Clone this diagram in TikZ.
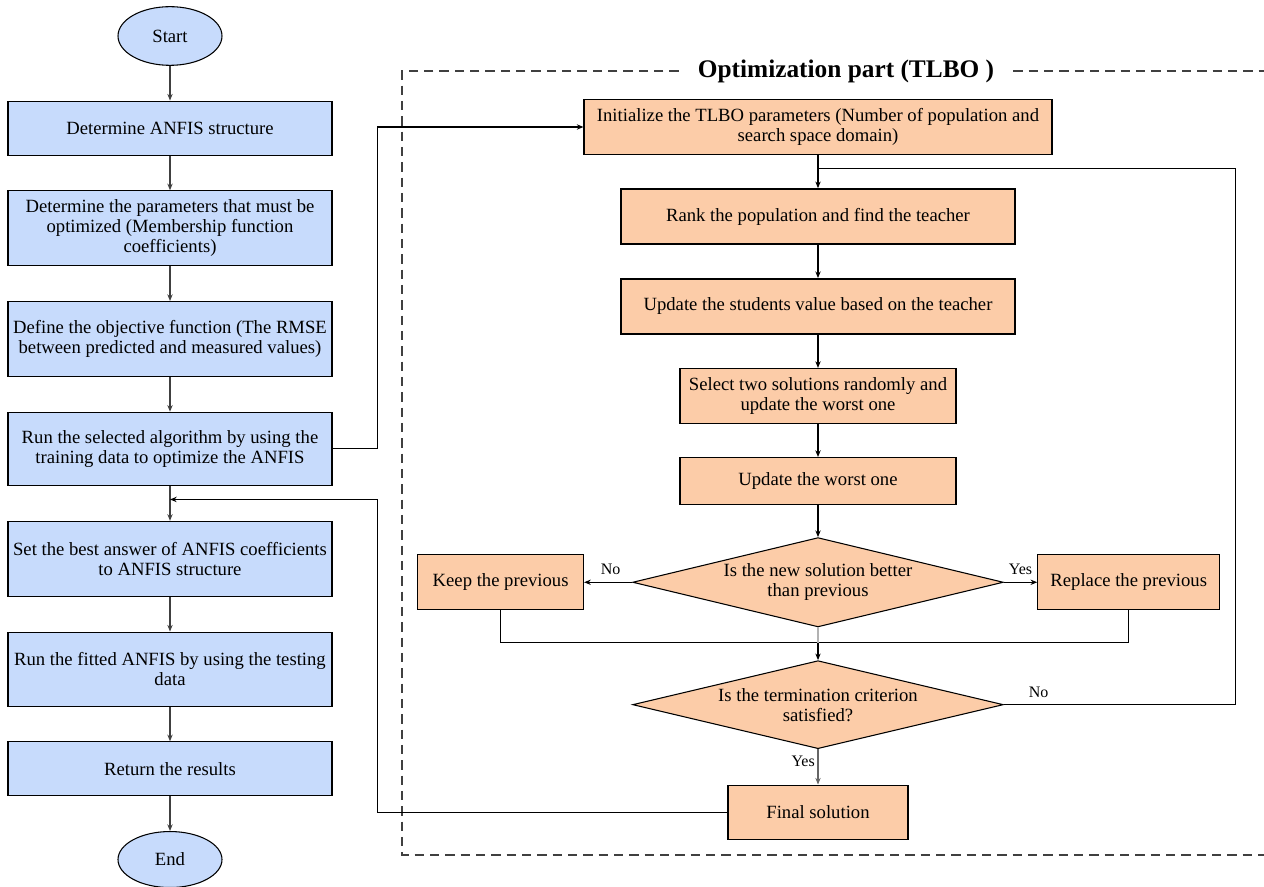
\documentclass[tikz,border=0pt]{standalone}
\usepackage{fontspec}
\setmainfont{Liberation Serif}
\usetikzlibrary{positioning,shapes.geometric,arrows.meta}
\definecolor{anfisblue}{RGB}{199,219,252}
\definecolor{tlbopeach}{RGB}{252,204,168}

\begin{document}
\begin{tikzpicture}[x=0.75pt, y=-0.75pt, node distance={26pt}, thick, >={Stealth[length=5pt,width=4pt]},
    font=\fontsize{14pt}{15pt}\selectfont,
    anfis/.style = {draw, rectangle, fill=anfisblue, align=center, minimum width=243pt, inner sep=2pt},
    term/.style = {draw, ellipse, fill=anfisblue, minimum width=78pt, minimum height=44pt, inner sep=1pt},
    tlbo/.style = {draw, rectangle, fill=tlbopeach, align=center, minimum height=41pt, inner sep=2pt},
    cond/.style = {draw, diamond, fill=tlbopeach, align=center, aspect=4.1, minimum width=278pt, minimum height=67pt, inner sep=0pt},
    lbl/.style = {font=\fontsize{12pt}{13pt}\selectfont, inner sep=2pt},
    frame/.style = {draw=black!75, line width=0.8pt, dash pattern=on 7pt off 4.5pt}]
    \useasboundingbox (0,0) rectangle (1264,887);

    % ANFIS side
    \node[term] (1) at (170,36) {Start};
    \node[anfis, minimum height=40.5pt] (2) [below=of 1] {Determine ANFIS structure};
    \node[anfis, minimum height=56.25pt] (3) [below=of 2] {Determine the parameters that must be\\optimized (Membership function\\coefficients)};
    \node[anfis, minimum height=56.25pt] (4) [below=of 3] {Define the objective function (The RMSE\\between predicted and measured values)};
    \node[anfis, minimum height=55pt] (5) [below=of 4] {Run the selected algorithm by using the\\training data to optimize the ANFIS};
    \node[anfis, minimum height=56.25pt] (6) [below=of 5] {Set the best answer of ANFIS coefficients\\to ANFIS structure};
    \node[anfis, minimum height=55.5pt] (7) [below=of 6] {Run the fitted ANFIS by using the testing\\data};
    \node[anfis, minimum height=40.5pt] (8) [below=of 7] {Return the results};
    \node[term, minimum height=42pt] (9) [below=of 8] {End};

    % TLBO side
    \node[font=\bfseries\fontsize{19pt}{21pt}\selectfont, inner xsep=14pt] (title) at (846,71) {Optimization part (TLBO )};
    \draw[frame] (title.west) -- (402,71) -- (402,855) -- (1264,855);
    \draw[frame] (title.east) -- (1264,71);

    \node[tlbo, minimum width=351pt] (10) at (818,127) {Initialize the TLBO parameters (Number of population and\\search space domain)};
    \node[tlbo, minimum width=296pt, line width=1.4pt] (11) [below=25pt of 10] {Rank the population and find the teacher};
    \node[tlbo, minimum width=296pt, line width=1.4pt] (12) [below=25pt of 11] {Update the students value based on the teacher};
    \node[tlbo, minimum width=207pt] (13) [below=25pt of 12] {Select two solutions randomly and\\update the worst one};
    \node[tlbo, minimum width=207pt, minimum height=35.25pt] (14) [below=25pt of 13] {Update the worst one};
    \node[cond] (15) [below=24pt of 14] {Is the new solution better\\than previous};
    \node[tlbo, minimum width=124.5pt] (16) [left=36pt of 15] {Keep the previous};
    \node[tlbo, minimum width=136.5pt] (17) [right=25pt of 15] {Replace the previous};
    \node[cond, minimum height=66pt] (18) [below=24.5pt of 15] {Is the termination criterion\\satisfied?};
    \node[tlbo, minimum width=135pt] (19) [below=26.5pt of 18] {Final solution};

    \coordinate[below=10pt of 5] (j1);
    \coordinate[below=10.5pt of 10] (j2);
    \coordinate[below=11.5pt of 15] (j3);

    % ANFIS flow
    \draw[->, black!75] (1) -- (2);
    \draw[->, black!75] (2) -- (3);
    \draw[->, black!75] (3) -- (4);
    \draw[->, black!75] (4) -- (5);
    \draw[->, black!75] (5) -- (6);
    \draw[->, black!75] (6) -- (7);
    \draw[->, black!75] (7) -- (8);
    \draw[->, black!75] (8) -- (9);
    \draw[->] (5.east) -- ++(45,0) coordinate (bus) |- (10.west);
    \draw[->] (19.west) -| (bus |- j1) -- (j1);

    % TLBO flow
    \draw[->] (10) -- (11);
    \draw[->] (11) -- (12);
    \draw[->] (12) -- (13);
    \draw[->, very thick] (13) -- (14);
    \draw[->] (14) -- (15);
    \draw[->] (15.west) -- node[lbl, above=3pt, pos=0.45] (no1) {No} (16.east);
    \draw[->] (15.east) -- node[lbl, above=3pt] (yes1) {Yes} (17.west);
    \draw (16.south) |- (j3) -| (17.south);
    \draw[gray!60] (15.south) -- (j3);
    \draw[->] (j3) -- (18.north);
    \draw[->, black!60] (18.south) -- node[lbl, left, pos=0.35, text=black] (yes2) {Yes} (19.north);
    \draw (18.east) -- node[lbl, above=3pt, pos=0.15] (no2) {No} ++(232,0) |- (j2);
\end{tikzpicture}
\end{document}
